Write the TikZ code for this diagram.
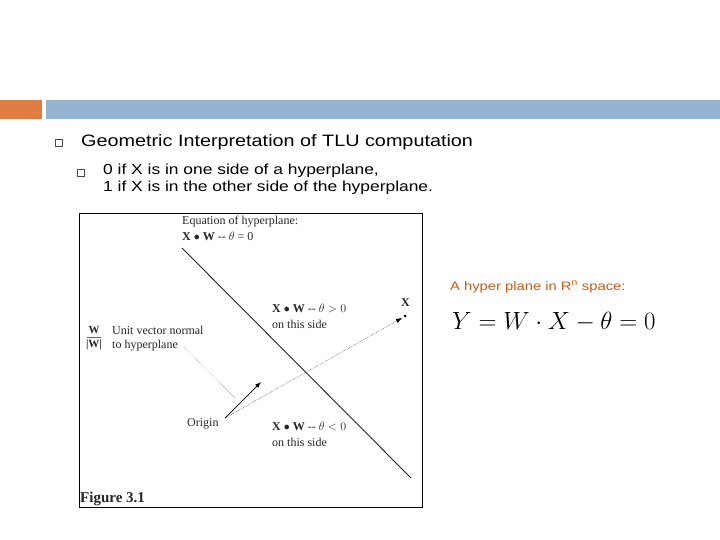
\documentclass[tikz,border=0pt]{standalone}
\usepackage{fontspec}
\setmainfont{Liberation Sans}[FakeStretch=1.2]
\newfontfamily\serf{Liberation Serif}
\usepackage{amsmath}
\usetikzlibrary{arrows.meta}
\definecolor{barorange}{RGB}{224,125,66}
\definecolor{barblue}{RGB}{148,179,208}
\definecolor{txtorange}{RGB}{200,90,20}
\begin{document}
\begin{tikzpicture}[x=1pt,y=-1pt,
  sq/.style={draw=black!70,line width=0.5pt,minimum size=7pt,inner sep=0pt},
  fig/.style={font=\serf\fontsize{12}{13}\selectfont,anchor=west,inner sep=0pt,text=black!85},
  body/.style={anchor=west,inner sep=0pt}]
\useasboundingbox (0,0) rectangle (720,540);
\fill[barorange] (0,100) rectangle (42,119);
\fill[barblue] (46,100) rectangle (720,119);
\node[sq] (b1) at (59,143) {};
\node[body,font=\fontsize{16.5}{18}\selectfont] (t1) at (81,142) {Geometric Interpretation of TLU computation};
\node[sq] (b2) at (81,173) {};
\node[body,font=\fontsize{14.5}{17}\selectfont,align=left,anchor=north west] (t2) at (103,164) {0 if X is in one side of a hyperplane,\\1 if X is in the other side of the hyperplane.};
% figure
\node[draw,line width=0.7pt,minimum width=343pt,minimum height=294pt,anchor=north west,inner sep=0pt] (box) at (79,213) {};
\coordinate (h1) at (182,248);
\coordinate (h2) at (411,478);
\draw[line width=0.9pt,black!85] (h1) -- (h2);
\coordinate (O) at (225,418);
\coordinate (Xp) at (405,316);
\coordinate (Xa) at (402,318);
\coordinate (U) at (261,382);
\fill (Xp) circle (1.5pt);
\draw[densely dotted,-{Latex[length=6pt]}] (O) -- (Xa);
\draw[line width=0.7pt,-{Latex[length=6pt]}] (O) -- (U);
\coordinate (p1) at (184,347);
\coordinate (p2) at (235,398);
\draw[black!75,line width=0.4pt,densely dotted] (p1) -- (p2);
\node[fig] (eq1) at (182,222) {Equation of hyperplane:};
\node[fig] (eq2) at (182,236) {\textbf{X $\bullet$ W} -- $\theta$ = 0};
\node[fig] (g1) at (272,308) {\textbf{X $\bullet$ W} -- $\theta>0$};
\node[fig] (g2) at (272,324) {on this side};
\node[fig] (xl) at (401,303) {\textbf{X}};
\node[fig,font=\serf\bfseries\fontsize{11}{11}\selectfont,anchor=center] (wn) at (94,330) {W};
\node[fig,font=\serf\bfseries\fontsize{11}{11}\selectfont,anchor=center] (wd) at (94,345) {|W|};
\coordinate (r1) at (87,337.5);
\coordinate (r2) at (101,337.5);
\draw[black!60,line width=0.4pt] (r1) -- (r2);
\node[fig] (u1) at (112,330) {Unit vector normal};
\node[fig] (u2) at (112,346) {to hyperplane};
\node[fig] (or) at (187,424) {Origin};
\node[fig] (l1) at (272,426) {\textbf{X $\bullet$ W} -- $\theta<0$};
\node[fig] (l2) at (272,442) {on this side};
\node[fig,font=\serf\bfseries\fontsize{15}{16}\selectfont] (fc) at (80,499) {Figure 3.1};
\node[body,font=\fontsize{12.3}{14}\selectfont,text=txtorange] (hp) at (450,287) {A hyper plane in R\textsuperscript{n} space:};
\node[body,font=\serf\fontsize{30}{32}\selectfont] (eq) at (452,322) {$Y=W\cdot X-\theta=0$};
\end{tikzpicture}
\end{document}
